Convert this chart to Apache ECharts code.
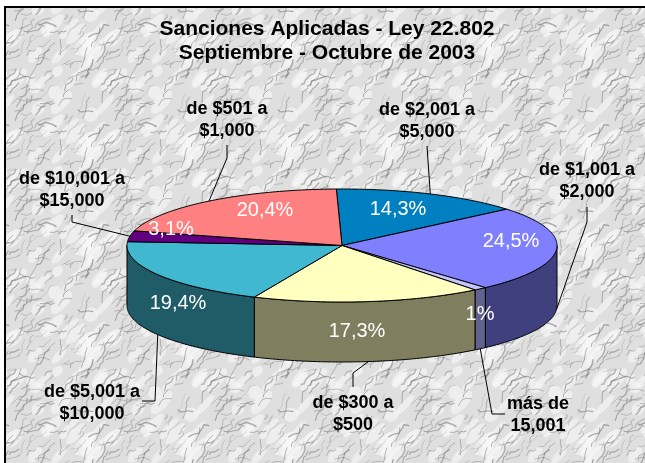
<!DOCTYPE html>
<html>
<head>
    <meta charset="utf-8"/>
    <title>Sanciones Aplicadas - Ley 22.802</title>
    <script src="https://cdn.jsdelivr.net/npm/echarts@6/dist/echarts.min.js"></script>
    <style>
        html, body { margin: 0; padding: 0; background: #fff; }
        #main { width: 645px; height: 463px; }
    </style>
</head>
<body>
<div id="main"></div>
<script type="text/javascript">
    // data, clockwise from the top of the pie
    var categories = ['de $2,001 a\n$5,000', 'de $1,001 a\n$2,000', 'más de\n15,001', 'de $300 a\n$500',
        'de $5,001 a\n$10,000', 'de $10,001 a\n$15,000', 'de $501 a\n$1,000'];
    var values = [14.3, 24.5, 1, 17.3, 19.4, 3.1, 20.4];
    var valueLabels = ['14,3%', '24,5%', '1%', '17,3%', '19,4%', '3,1%', '20,4%'];

    // colours
    var topColors = ['#0080C0', '#8080FF', '#C4C4FF', '#FFFFC0', '#3FB8D0', '#600080', '#FF8080'];
    var sideColors = ['#004060', '#40407F', '#62628F', '#7F7F60', '#205C68', '#300040', '#7F4040'];

    // layout of the texts, in pixels
    var startAngle = -1.5;
    var depth = 60;
    var valueLabelPos = [[398, 209], [511, 241], [480, 314], [357, 331], [178, 303], [171, 229], [265, 210]];
    var categoryPos = [[427, 121], [587, 181], [538, 415], [353, 414], [92, 403], [72, 190], [227, 120]];
    var leaderBends = [
        [[427, 146]],
        [[587, 207], [587, 222]],
        [[505, 414], [492, 414]],
        [[353, 387], [353, 373]],
        [[142, 401], [155, 401]],
        [[72, 215], [72, 222]],
        [[227, 145], [227, 158]]
    ];

    var FONT = '"Liberation Sans", Arial, sans-serif';

    // slice angles in degrees
    var slices = [];
    var acc = startAngle;
    for (var i = 0; i < values.length; i++) {
        slices.push({from: acc, to: acc + values[i] * 3.6});
        acc += values[i] * 3.6;
    }

    function rim(api, deg) {
        var r = deg * Math.PI / 180;
        return api.coord([Math.sin(r), Math.cos(r)]);
    }

    function renderSide(params, api) {
        var s = slices[params.dataIndex];
        var a = Math.max(s.from, 90), b = Math.min(s.to, 270);
        if (a >= b) return null;
        var top = [], bottom = [];
        for (var d = a; d < b; d += 1) {
            var p = rim(api, d);
            top.push(p);
            bottom.unshift([p[0], p[1] + depth]);
        }
        var e = rim(api, b);
        top.push(e);
        bottom.unshift([e[0], e[1] + depth]);
        return {
            type: 'polygon',
            shape: {points: top.concat(bottom)},
            style: {fill: sideColors[params.dataIndex], stroke: '#000', lineWidth: 1}
        };
    }

    function renderTop(params, api) {
        var s = slices[params.dataIndex];
        var pts = [api.coord([0, 0])];
        for (var d = s.from; d < s.to; d += 1) {
            pts.push(rim(api, d));
        }
        pts.push(rim(api, s.to));
        return {
            type: 'polygon',
            shape: {points: pts},
            style: {fill: topColors[params.dataIndex], stroke: '#000', lineWidth: 1}
        };
    }

    function renderText(params, api) {
        var i = params.dataIndex;
        var s = slices[i];
        var mid = (s.from + s.to) / 2;
        var end = rim(api, mid);
        if (mid > 90 && mid < 270) end = [end[0], end[1] + depth];
        return {
            type: 'group',
            children: [{
                type: 'polyline',
                shape: {points: leaderBends[i].concat([end])},
                style: {stroke: '#000', lineWidth: 1, fill: null}
            }, {
                type: 'text',
                style: {
                    text: valueLabels[i], x: valueLabelPos[i][0], y: valueLabelPos[i][1],
                    fill: '#fff', font: '20px ' + FONT, align: 'center', verticalAlign: 'middle'
                }
            }, {
                type: 'text',
                style: {
                    text: categories[i], x: categoryPos[i][0], y: categoryPos[i][1],
                    fill: '#000', font: 'bold 18px ' + FONT, lineHeight: 22,
                    align: 'center', verticalAlign: 'middle'
                }
            }]
        };
    }

    // marble tile, 100px square: short jagged grey veins, wrapped and softened
    function marbleTile() {
        var size = 100;
        var seed = 11;
        function rnd() {
            seed = (seed * 16807) % 2147483647;
            return seed / 2147483647;
        }
        var raw = document.createElement('canvas');
        raw.width = raw.height = size;
        var r = raw.getContext('2d');
        r.fillStyle = '#dfdfe0';
        r.fillRect(0, 0, size, size);
        function wrapped(fn) {
            for (var ox = -size; ox <= size; ox += size) {
                for (var oy = -size; oy <= size; oy += size) {
                    r.save();
                    r.translate(ox, oy);
                    fn();
                    r.restore();
                }
            }
        }
        // pale patches along the grain
        for (var n = 0; n < 30; n++) {
            (function (x, y, a, b) {
                wrapped(function () {
                    r.fillStyle = 'rgba(248,248,249,0.6)';
                    r.beginPath();
                    r.ellipse(x, y, a, b, -0.85, 0, Math.PI * 2);
                    r.fill();
                });
            })(rnd() * size, rnd() * size, 6 + rnd() * 9, 3 + rnd() * 4);
        }
        // veins
        for (var v = 0; v < 80; v++) {
            var ang = v % 4 === 3 ? rnd() * 0.5 - 0.25 : -0.85 + (rnd() - 0.5) * 0.8;
            var x = rnd() * size, y = rnd() * size;
            var pts = [[x, y]];
            var segs = 2 + Math.floor(rnd() * 4);
            for (var q = 0; q < segs; q++) {
                var t = ang + (rnd() - 0.5) * 1.4;
                var len = 2 + rnd() * 5;
                x += Math.cos(t) * len;
                y += Math.sin(t) * len;
                pts.push([x, y]);
            }
            (function (pts, alpha, w) {
                wrapped(function () {
                    r.strokeStyle = 'rgba(105,105,107,' + alpha + ')';
                    r.lineWidth = w;
                    r.beginPath();
                    r.moveTo(pts[0][0], pts[0][1]);
                    for (var k = 1; k < pts.length; k++) r.lineTo(pts[k][0], pts[k][1]);
                    r.stroke();
                });
            })(pts, 0.2 + rnd() * 0.35, 0.7 + rnd() * 0.8);
        }
        // soften, keeping the edges wrapped
        var out = document.createElement('canvas');
        out.width = out.height = size;
        var o = out.getContext('2d');
        o.filter = 'blur(0.6px)';
        for (var ox = -size; ox <= size; ox += size) {
            for (var oy = -size; oy <= size; oy += size) {
                o.drawImage(raw, ox, oy);
            }
        }
        return out;
    }

    var myChart = echarts.init(document.getElementById('main'), null, {renderer: 'canvas'});
    var rows = values.map(function (v, idx) { return [idx, v]; });

    var option = {
        animation: false,
        backgroundColor: '#fff',
        title: {
            text: 'Sanciones Aplicadas - Ley 22.802\nSeptiembre - Octubre de 2003',
            left: 322,
            top: 12,
            textAlign: 'center',
            textStyle: {fontFamily: FONT, fontSize: 21, fontWeight: 'bold', color: '#000', lineHeight: 24},
            z: 10
        },
        grid: {left: 127, width: 430, top: 189, height: 113},
        xAxis: {type: 'value', min: -1, max: 1, show: false},
        yAxis: {type: 'value', min: -1, max: 1, show: false},
        graphic: [
            {type: 'rect', z: -10, shape: {x: 5, y: 7, width: 640, height: 456}, style: {fill: {image: marbleTile(), repeat: 'repeat'}}},
            {type: 'rect', z: -9, shape: {x: 4, y: 6, width: 641, height: 2}, style: {fill: '#000'}},
            {type: 'rect', z: -9, shape: {x: 4, y: 6, width: 2, height: 457}, style: {fill: '#000'}}
        ],
        series: [
            {type: 'custom', coordinateSystem: 'cartesian2d', silent: true, clip: false, z: 2, data: rows, renderItem: renderSide},
            {type: 'custom', coordinateSystem: 'cartesian2d', silent: true, clip: false, z: 3, data: rows, renderItem: renderTop},
            {type: 'custom', coordinateSystem: 'cartesian2d', silent: true, clip: false, z: 4, data: rows, renderItem: renderText}
        ]
    };
    myChart.setOption(option);
</script>
</body>
</html>
